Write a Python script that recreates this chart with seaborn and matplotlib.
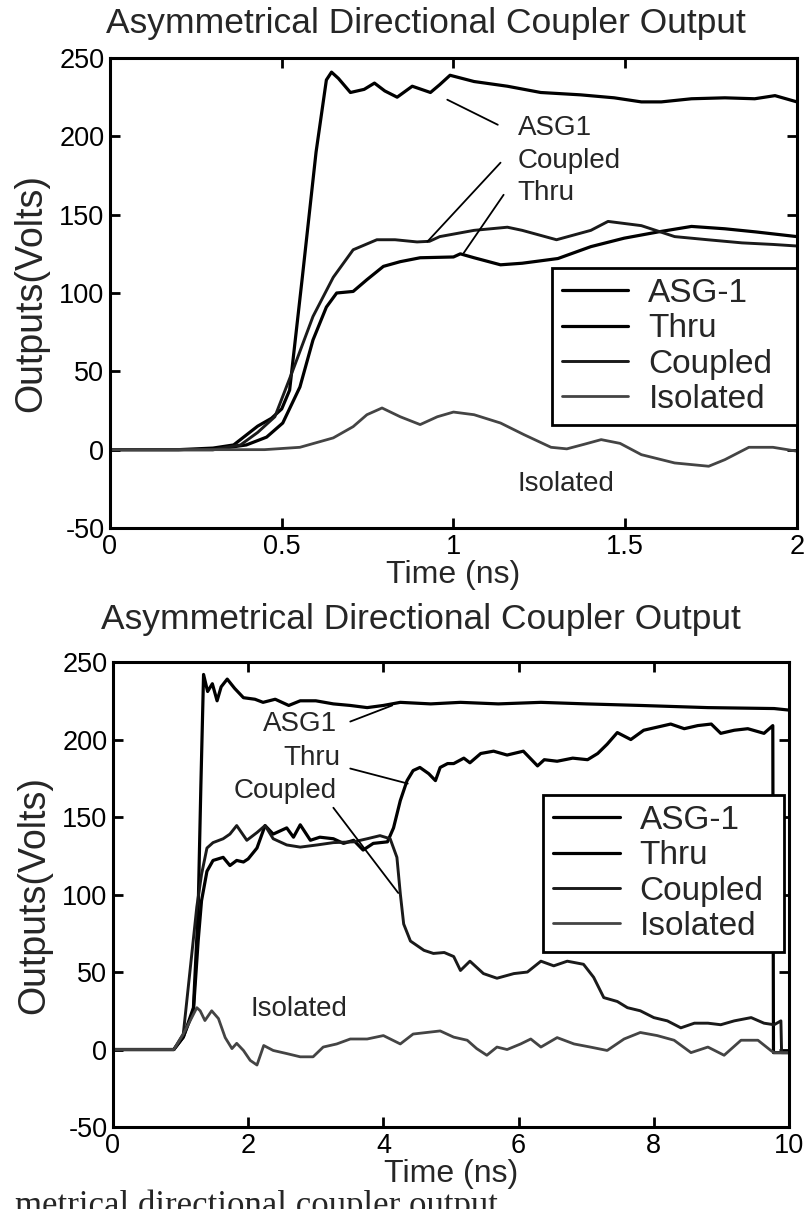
import numpy as np
import pandas as pd
import matplotlib
matplotlib.use("Agg")
import matplotlib.pyplot as plt
import seaborn as sns
from matplotlib.lines import Line2D

# ---------------- data ----------------
series_names = ["ASG-1", "Thru", "Coupled", "Isolated"]

# top panel (0..2 ns)
t1_asg = [0, 0.2, 0.3, 0.36, 0.43, 0.47, 0.50, 0.523, 0.56, 0.60, 0.63, 0.645, 0.665, 0.70, 0.74, 0.77,
          0.80, 0.836, 0.88, 0.933, 0.96, 0.99, 1.06, 1.157, 1.254, 1.37, 1.468, 1.547, 1.605, 1.693,
          1.79, 1.877, 1.936, 2.0]
v1_asg = [0, 0, 1, 3, 15, 20, 26, 38, 110, 190, 236, 241, 237, 228, 230, 234,
          229, 225, 232, 228, 233, 239, 235, 232, 228, 226.5, 224.6, 222, 222, 224,
          224.6, 224, 226, 222]

t1_thru = [0, 0.3, 0.397, 0.456, 0.503, 0.553, 0.591, 0.63, 0.66, 0.708, 0.748, 0.796, 0.845, 0.903,
           1.0, 1.02, 1.06, 1.137, 1.2, 1.304, 1.40, 1.497, 1.596, 1.693, 1.79, 1.88, 2.0]
v1_thru = [0, 0, 3, 8, 17, 40, 70, 91, 100, 101, 108.5, 117, 120, 122.5,
           123, 125, 122.5, 118, 119, 122, 129.6, 135, 139, 142.5, 141, 139, 136]

t1_coup = [0, 0.3, 0.38, 0.43, 0.48, 0.533, 0.591, 0.65, 0.708, 0.777, 0.83, 0.894, 0.93, 0.96,
           1.06, 1.157, 1.2, 1.3, 1.4, 1.45, 1.547, 1.644, 1.74, 1.84, 1.93, 2.0]
v1_coup = [0, 0, 3, 11, 21, 51, 85, 110, 127.6, 134, 134, 132.6, 133, 136,
           140, 142, 140, 134, 140, 145.7, 143, 136, 134, 132, 131, 130]

t1_iso = [0, 0.45, 0.553, 0.65, 0.708, 0.748, 0.792, 0.845, 0.903, 0.953, 1.0, 1.06, 1.137, 1.205,
          1.284, 1.33, 1.38, 1.43, 1.485, 1.547, 1.644, 1.743, 1.79, 1.86, 1.93, 2.0]
v1_iso = [0, 0, 1.5, 7.5, 14.7, 22.3, 26.6, 21, 16, 21, 24, 22.3, 17, 9.6,
          1.5, 0.5, 3.4, 6.4, 4, -3.2, -8.5, -10.6, -6.4, 1.5, 1.5, -1]

# bottom panel (0..10 ns)
t2_asg = [0, 0.9, 1.04, 1.19, 1.26, 1.3, 1.34, 1.4, 1.47, 1.54, 1.6, 1.69, 1.8, 1.93, 2.1, 2.22,
          2.4, 2.6, 2.77, 3.0, 3.26, 3.51, 3.76, 4.0, 4.25, 4.7, 5.14, 5.7, 6.33, 7.0, 7.8, 8.8,
          9.78, 10.0]
v2_asg = [0, 0, 8, 27, 90, 170, 242, 231, 236, 225, 234, 239, 233, 227, 226, 224,
          226, 222, 225, 225, 223, 222, 220.6, 222, 224, 223, 224, 223, 224, 223, 222, 220.6,
          220, 219]

t2_thru = [0, 0.9, 1.04, 1.19, 1.26, 1.31, 1.39, 1.48, 1.63, 1.73, 1.83, 1.93, 2.0, 2.13, 2.25,
           2.37, 2.57, 2.67, 2.77, 2.92, 3.06, 3.26, 3.41, 3.56, 3.7, 3.85, 4.06, 4.15, 4.25,
           4.35, 4.44, 4.54, 4.67, 4.77, 4.84, 4.95, 5.04, 5.19, 5.28, 5.44, 5.63, 5.83, 6.07,
           6.28, 6.38, 6.57, 6.8, 7.02, 7.17, 7.31, 7.46, 7.66, 7.85, 8.05, 8.25, 8.45, 8.65,
           8.85, 8.99, 9.19, 9.39, 9.63, 9.76, 9.77, 10.0]
v2_thru = [0, 0, 8, 25, 70, 96, 115, 122, 124, 118.7, 122, 121, 123, 130, 144.5,
           139, 143, 137, 145, 135, 137, 136, 133, 135, 128.7, 133, 134, 143, 160.6,
           173.5, 180, 182, 178, 173.5, 182, 184.5, 184.5, 188, 185, 191, 192.5, 190, 192.5,
           183, 187, 186, 188, 187, 191, 197, 204.5, 200, 206, 208, 210, 207, 209,
           210, 204, 206, 207, 204, 209, -2, -2]

t2_coup = [0, 0.9, 1.04, 1.24, 1.31, 1.39, 1.48, 1.63, 1.73, 1.83, 1.98, 2.13, 2.25, 2.37, 2.57,
           2.77, 3.02, 3.26, 3.56, 3.76, 3.95, 4.1, 4.2, 4.25, 4.3, 4.4, 4.6, 4.74, 4.9, 5.04,
           5.14, 5.28, 5.48, 5.68, 5.93, 6.13, 6.33, 6.52, 6.72, 6.96, 7.11, 7.26, 7.46, 7.61,
           7.8, 8.0, 8.2, 8.4, 8.6, 8.8, 8.99, 9.19, 9.44, 9.63, 9.78, 9.88, 9.89, 10.0]
v2_coup = [0, 0, 10, 92, 113, 130, 133.5, 136, 139, 144.5, 135, 140, 144.5, 136, 132,
           130.6, 132, 133.5, 134, 136, 138, 136, 124, 100.6, 81, 70, 64, 62, 62.6, 60,
           51, 57, 49, 46, 49, 50, 57, 54, 57, 55, 46.6, 33.5, 31, 27,
           25, 20.6, 18.5, 14, 17, 17, 16, 18.5, 20.6, 17, 16, 18.5, -2, -2]

t2_iso = [0, 0.9, 1.04, 1.17, 1.24, 1.29, 1.36, 1.46, 1.56, 1.66, 1.76, 1.83, 1.93, 2.03, 2.13,
          2.23, 2.37, 2.57, 2.77, 2.96, 3.11, 3.31, 3.51, 3.76, 4.0, 4.25, 4.44, 4.64, 4.84,
          5.04, 5.24, 5.38, 5.53, 5.68, 5.83, 6.03, 6.18, 6.33, 6.57, 6.82, 7.06, 7.31, 7.56,
          7.8, 8.05, 8.3, 8.55, 8.8, 9.04, 9.29, 9.54, 9.73, 9.78, 10.0]
v2_iso = [0, 0, 10, 21, 27, 25, 18.7, 25, 20, 7.7, 0.6, 4, -0.6, -7, -10,
          2.6, -0.6, -2.6, -4.7, -4.7, 1.6, 3.6, 6.8, 6.8, 9, 3.6, 10, 11, 12,
          8, 6, 0.6, -3.7, 1.6, 0, 3.6, 6.8, 1.6, 7.7, 3.6, 1.6, -0.6, 6.8,
          11, 9, 6, -2, 1.6, -3.7, 6, 6, -0.6, -2, -2]

title_text = "Asymmetrical Directional Coupler Output"
xlabel_text = "Time (ns)"
ylabel_text = "Outputs(Volts)"
top_xticks = [0, 0.5, 1, 1.5, 2]
top_xticklabels = ["0", "0.5", "1", "1.5", "2"]
bot_xticks = [0, 2, 4, 6, 8, 10]
yticks = [-50, 0, 50, 100, 150, 200, 250]
caption_text = "metrical directional coupler output"

# annotation labels: (text, text position, leader start, leader end)
top_notes = [("ASG1", (1.187, 205.5), (1.129, 207.4), (0.982, 223.4)),
             ("Coupled", (1.187, 184.4), (1.137, 183.2), (0.924, 132.8)),
             ("Thru", (1.187, 164.0), (1.146, 162.7), (1.03, 125.6)),
             ("Isolated", (1.187, -22.0), None, None)]
bot_notes = [("ASG1", (2.22, 210.0), (3.51, 211.6), (4.13, 222.0)),
             ("Thru", (2.52, 188.0), (3.51, 181.3), (4.36, 171.6)),
             ("Coupled", (1.78, 167.0), (3.26, 156.0), (4.22, 101.0)),
             ("Isolated", (2.03, 26.0), None, None)]

# ---------------- styling ----------------
sns.set_theme(style="ticks")
plt.rcParams["font.family"] = ["Liberation Sans", "DejaVu Sans"]
plt.rcParams["axes.unicode_minus"] = False
plt.rcParams["axes.linewidth"] = 2.0

colors = {"ASG-1": "#000000", "Thru": "#000000", "Coupled": "#1a1a1a", "Isolated": "#444444"}
widths = {"ASG-1": 2.3, "Thru": 2.3, "Coupled": 2.1, "Isolated": 2.0}

fig = plt.figure(figsize=(8.11, 12.09), dpi=100)
ax1 = fig.add_axes([0.1356, 0.5633, 0.8471, 0.3887])
ax2 = fig.add_axes([0.1393, 0.0678, 0.8336, 0.3846])


def build_df(pairs):
    frames = []
    for name, (t, v) in zip(series_names, pairs):
        frames.append(pd.DataFrame({"t": t, "v": v, "series": name}))
    return frames


def draw(ax, pairs, xlim, xticks, xticklabels, notes, legend_box, title_pad, title_x):
    for df in build_df(pairs):
        name = df["series"].iloc[0]
        sns.lineplot(data=df, x="t", y="v", ax=ax, color=colors[name], lw=widths[name],
                     sort=False, estimator=None, legend=False)
    ax.set_xlim(*xlim)
    ax.set_ylim(-50, 250)
    ax.set_xticks(xticks)
    ax.set_xticklabels(xticklabels)
    ax.set_yticks(yticks)
    ax.tick_params(direction="in", top=True, right=True, length=7, width=2,
                   labelsize=19.5, pad=4, colors="black")
    for s in ax.spines.values():
        s.set_visible(True)
        s.set_color("black")
        s.set_linewidth(2.2)
    ax.set_xlabel(xlabel_text, fontsize=23, labelpad=0)
    ax.set_ylabel(ylabel_text, fontsize=27, labelpad=7)
    ax.set_title(title_text, fontsize=25.5, pad=title_pad, x=title_x)
    for text, pos, p0, p1 in notes:
        ax.text(pos[0], pos[1], text, fontsize=20, ha="left", va="center")
        if p0 is not None:
            ax.annotate("", xy=p1, xytext=p0,
                        arrowprops=dict(arrowstyle="-", color="black", lw=1.3,
                                        shrinkA=0, shrinkB=0))
    handles = [Line2D([], [], color=colors[n], lw=widths[n]) for n in series_names]
    leg = ax.legend(handles, series_names, loc="upper left", bbox_to_anchor=legend_box,
                    mode="expand", fontsize=24, frameon=True, fancybox=False, framealpha=1,
                    edgecolor="black", handlelength=2.0, handletextpad=0.6,
                    borderpad=0.3, labelspacing=0.13, borderaxespad=0)
    leg.get_frame().set_linewidth(2.0)


draw(ax1, [(t1_asg, v1_asg), (t1_thru, v1_thru), (t1_coup, v1_coup), (t1_iso, v1_iso)],
     (0, 2), top_xticks, top_xticklabels, top_notes, (0.643, 0.0, 0.357, 0.553), 18, 0.46)
draw(ax2, [(t2_asg, v2_asg), (t2_thru, v2_thru), (t2_coup, v2_coup), (t2_iso, v2_iso)],
     (0, 10), bot_xticks, [str(v) for v in bot_xticks], bot_notes,
     (0.636, 0.0, 0.3565, 0.714), 24, 0.456)

fig.text(0.018, -0.005, caption_text, fontsize=25, family=["Liberation Serif", "DejaVu Serif"],
         ha="left", va="baseline")

fig.savefig("out.png", dpi=100, facecolor="white")
